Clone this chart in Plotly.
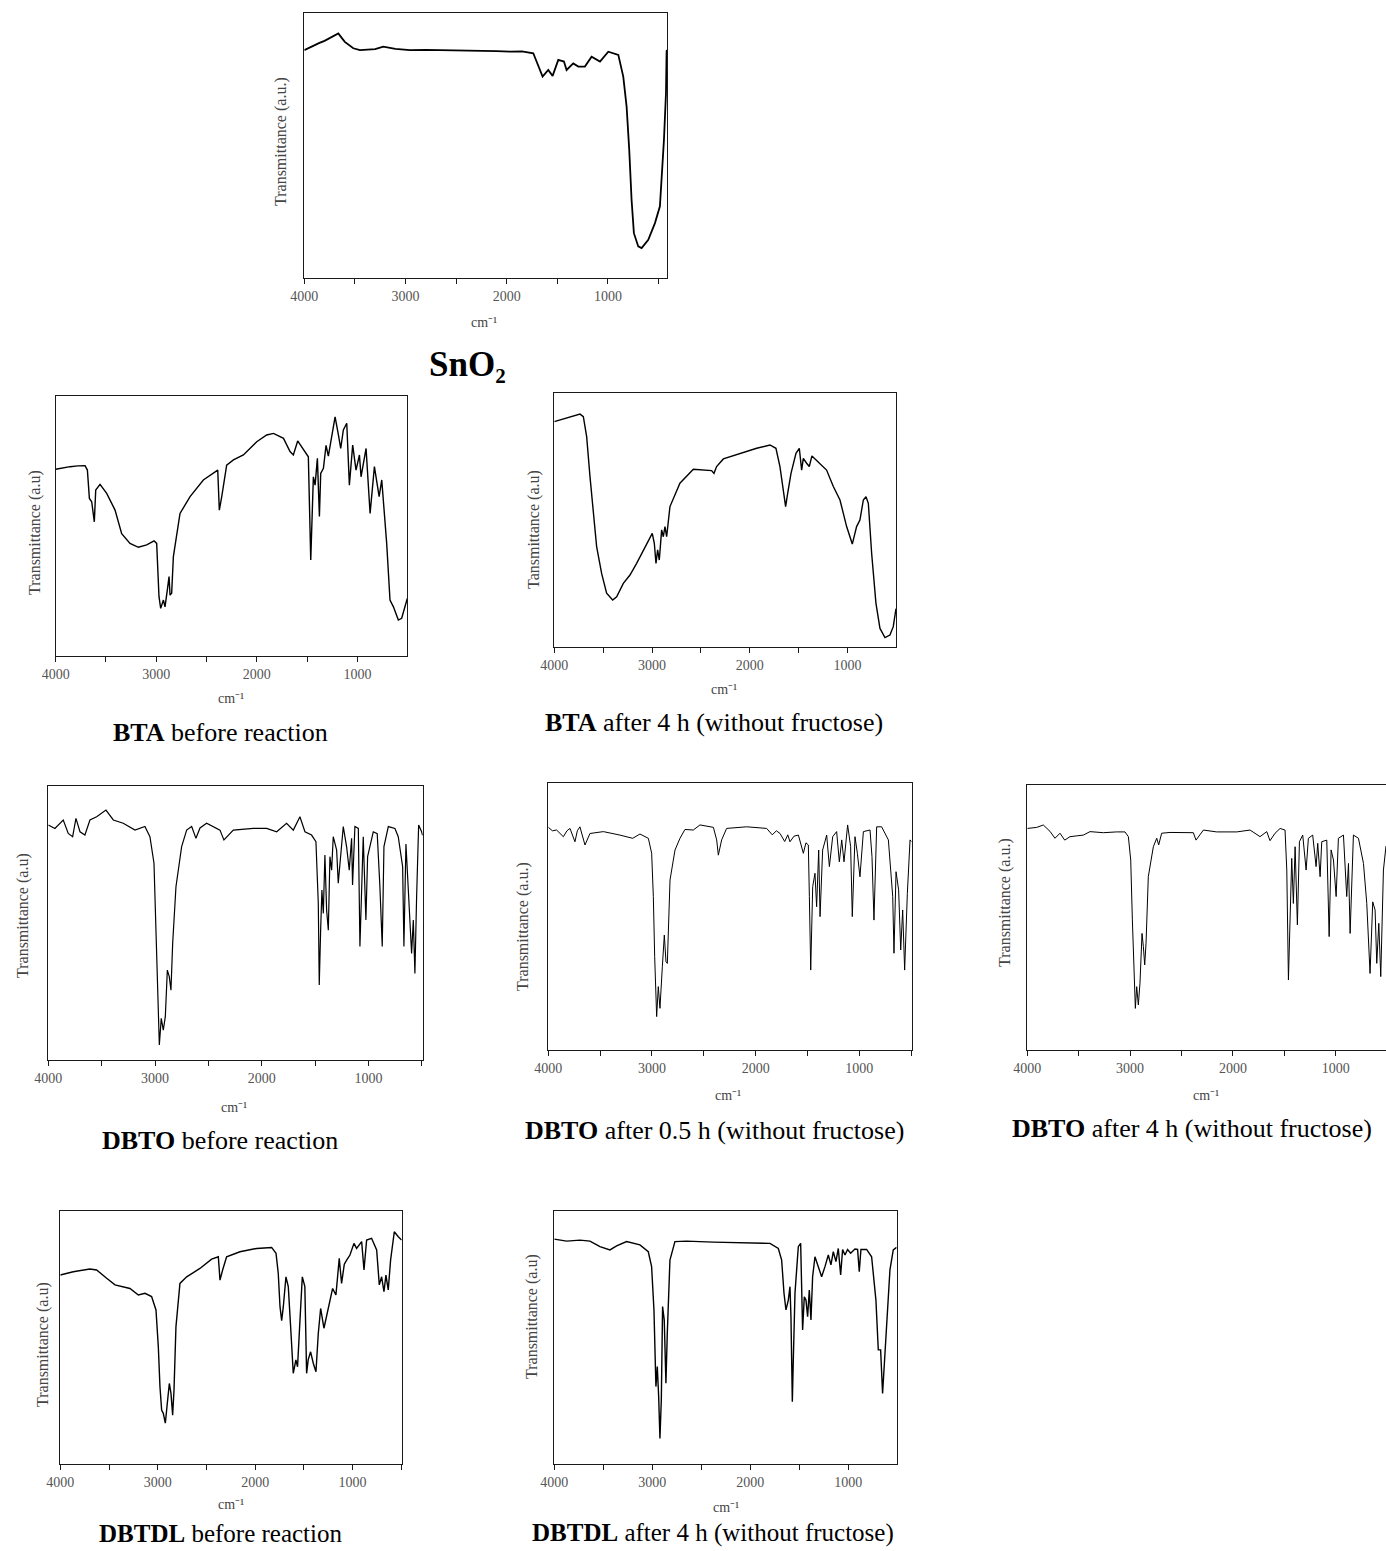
import plotly.graph_objects as go

W, H = 1386, 1551

# ---------------- data: (wavenumber cm-1, transmittance a.u.) ----------------
sno2 = [(4000, 85.9), (3950, 86.8), (3900, 88.0), (3850, 88.6), (3800, 89.4), (3750, 90.4),
        (3700, 91.4), (3664, 92.2), (3640, 91.0), (3600, 89.0), (3516, 86.6), (3450, 85.9),
        (3300, 86.3), (3220, 87.2), (3100, 86.4), (2956, 85.9), (2800, 86.0), (2600, 85.9),
        (2462, 85.9), (2300, 85.6), (2100, 85.5), (1968, 85.3), (1850, 85.4), (1738, 84.7),
        (1689, 80.3), (1646, 75.9), (1590, 78.4), (1547, 76.2), (1491, 82.2), (1435, 81.6),
        (1409, 78.4), (1343, 80.9), (1293, 79.7), (1228, 79.7), (1162, 83.4), (1079, 81.6),
        (997, 85.3), (898, 84.1), (849, 75.9), (816, 64.6), (790, 48.3), (767, 29.5),
        (744, 16.9), (701, 11.9), (668, 11.3), (602, 14.4), (536, 20.7), (487, 27.0),
        (447, 52.1), (427, 69.6), (421, 85.3), (418, 86.0)]

bta_before = [(4000, 71.7), (3930, 72.3), (3857, 72.7), (3780, 73.0), (3708, 73.1), (3685, 71.4),
              (3665, 60.5), (3642, 59.2), (3616, 51.5), (3602, 63.7), (3559, 65.9), (3493, 62.4),
              (3410, 56.0), (3344, 46.9), (3261, 43.2), (3178, 41.7), (3095, 42.6), (3022, 44.2),
              (2996, 43.2), (2973, 22.7), (2956, 18.2), (2929, 21.4), (2913, 18.8), (2890, 25.3),
              (2873, 30.4), (2863, 23.3), (2847, 24.0), (2830, 38.1), (2764, 54.7), (2664, 61.2),
              (2532, 67.6), (2389, 71.4), (2373, 56.0), (2349, 61.2), (2300, 73.3), (2233, 75.3),
              (2134, 77.2), (2001, 82.3), (1902, 84.9), (1834, 85.5), (1735, 83.6), (1670, 78.5),
              (1637, 77.2), (1594, 82.6), (1554, 80.4), (1521, 78.5), (1488, 76.5), (1464, 36.8),
              (1438, 68.8), (1421, 65.6), (1398, 75.9), (1378, 53.5), (1365, 70.1), (1338, 72.1),
              (1312, 80.9), (1289, 76.8), (1262, 83.6), (1222, 91.9), (1189, 84.9), (1166, 79.7),
              (1140, 86.8), (1106, 89.4), (1080, 65.6), (1047, 81.0), (1014, 71.4), (980, 77.2),
              (964, 68.8), (914, 79.7), (874, 54.7), (831, 72.7), (784, 61.2), (758, 67.6),
              (709, 43.2), (676, 21.4), (642, 18.8), (593, 13.7), (560, 14.4), (536, 17.6),
              (510, 21.4), (504, 22.0)]

bta_after = [(4000, 88.8), (3940, 89.5), (3874, 90.1), (3800, 91.0), (3737, 91.8), (3703, 90.8),
             (3669, 82.9), (3635, 67.1), (3601, 52.6), (3567, 39.5), (3516, 28.9), (3465, 21.1),
             (3403, 18.4), (3362, 19.7), (3294, 25.0), (3226, 28.3), (3158, 32.9), (3073, 39.5),
             (2998, 44.7), (2977, 40.8), (2960, 32.9), (2943, 38.2), (2926, 34.2), (2902, 46.1),
             (2885, 43.4), (2868, 47.4), (2851, 43.4), (2817, 55.3), (2715, 64.5), (2578, 70.0),
             (2442, 69.7), (2391, 69.5), (2367, 68.4), (2340, 71.1), (2271, 74.1), (2101, 76.3),
             (1930, 78.3), (1794, 79.6), (1733, 78.3), (1692, 71.1), (1658, 60.5), (1634, 55.3),
             (1613, 60.5), (1579, 68.4), (1528, 76.3), (1494, 78.3), (1470, 69.7), (1453, 74.3),
             (1419, 72.4), (1392, 71.1), (1365, 75.3), (1300, 73.0), (1215, 69.7), (1146, 63.2),
             (1078, 57.9), (1010, 47.4), (952, 40.5), (908, 47.4), (874, 50.0), (839, 57.9),
             (812, 59.2), (788, 56.6), (754, 36.8), (710, 17.1), (669, 7.2), (618, 3.6),
             (567, 4.6), (533, 7.9), (509, 13.8), (505, 15.0)]

dbto_before = [(4000, 85.8), (3938, 84.5), (3860, 87.6), (3813, 82.7), (3772, 81.5), (3741, 88.2),
               (3703, 83.3), (3657, 82.1), (3610, 87.6), (3547, 88.8), (3460, 91.2), (3391, 87.6),
               (3298, 86.4), (3188, 83.9), (3095, 85.2), (3048, 81.5), (3010, 71.8), (2992, 45.0),
               (2976, 25.5), (2960, 5.5), (2942, 15.2), (2923, 10.9), (2904, 15.8), (2885, 32.8),
               (2867, 30.4), (2851, 25.5), (2835, 42.6), (2804, 63.3), (2751, 77.9), (2704, 83.9),
               (2657, 85.2), (2617, 80.9), (2579, 84.7), (2517, 86.4), (2392, 83.9), (2355, 80.3),
               (2267, 83.9), (2080, 84.5), (1955, 84.5), (1861, 83.3), (1768, 86.4), (1705, 83.9),
               (1643, 88.8), (1596, 83.3), (1534, 82.1), (1493, 79.7), (1471, 57.2), (1462, 27.4),
               (1449, 47.4), (1437, 62.0), (1424, 53.5), (1409, 74.8), (1393, 54.7), (1377, 47.4),
               (1362, 74.2), (1346, 69.3), (1331, 81.5), (1299, 76.6), (1284, 64.5), (1237, 85.2),
               (1206, 77.9), (1181, 69.3), (1159, 80.9), (1150, 63.9), (1128, 85.2), (1096, 84.5),
               (1081, 41.4), (1050, 81.5), (1025, 51.1), (1009, 74.2), (956, 83.3), (919, 82.6),
               (894, 63.3), (872, 41.4), (856, 77.9), (815, 85.2), (753, 84.5), (722, 81.5),
               (681, 70.6), (669, 41.4), (650, 78.8), (619, 57.2), (597, 38.9), (581, 51.1),
               (566, 31.6), (550, 59.6), (531, 85.8), (503, 83.3), (494, 82.0)]

dbto_05h = [(4000, 83.3), (3960, 82.0), (3920, 82.3), (3880, 80.5), (3855, 79.8), (3820, 82.0),
            (3791, 82.9), (3743, 77.9), (3720, 82.0), (3695, 83.5), (3670, 80.0), (3646, 76.7),
            (3598, 81.0), (3469, 81.7), (3309, 80.4), (3186, 79.2), (3116, 80.8), (3035, 79.2),
            (3003, 73.6), (2987, 57.4), (2974, 34.9), (2955, 12.5), (2939, 23.7), (2923, 15.6),
            (2900, 31.2), (2881, 43.0), (2865, 33.0), (2852, 32.4), (2826, 63.6), (2778, 74.8),
            (2730, 79.2), (2682, 82.5), (2601, 82.3), (2537, 84.2), (2408, 83.3), (2376, 78.6),
            (2360, 72.9), (2328, 78.6), (2280, 82.9), (2087, 83.5), (1894, 82.9), (1840, 80.5),
            (1800, 82.0), (1765, 81.0), (1720, 78.0), (1690, 80.5), (1669, 77.9), (1630, 80.0),
            (1588, 80.4), (1560, 76.0), (1540, 73.6), (1515, 77.5), (1492, 76.7), (1482, 57.4),
            (1469, 29.9), (1450, 61.1), (1428, 66.1), (1412, 53.6), (1392, 74.8), (1379, 49.9),
            (1354, 74.8), (1315, 80.4), (1289, 68.6), (1257, 79.8), (1219, 81.7), (1193, 70.4),
            (1170, 78.6), (1148, 70.4), (1113, 84.2), (1084, 76.1), (1068, 49.9), (1042, 79.8),
            (1019, 73.6), (994, 64.8), (961, 81.7), (897, 82.3), (878, 72.3), (859, 48.6),
            (833, 83.5), (785, 83.5), (720, 78.6), (678, 57.4), (666, 36.2), (646, 66.7),
            (621, 59.9), (601, 37.4), (582, 52.4), (563, 29.9), (537, 58.6), (511, 78.6),
            (497, 77.9)]

dbto_4h = [(4000, 83.6), (3909, 84.0), (3844, 84.9), (3779, 82.5), (3731, 79.9), (3682, 81.8),
           (3636, 79.2), (3585, 80.5), (3520, 80.8), (3455, 81.1), (3390, 82.4), (3260, 82.0),
           (3131, 82.3), (3050, 82.3), (3017, 80.5), (2994, 71.7), (2978, 49.1), (2962, 27.0),
           (2949, 15.7), (2936, 23.9), (2920, 17.0), (2904, 25.2), (2884, 44.0), (2871, 39.0),
           (2858, 32.1), (2845, 40.3), (2823, 65.4), (2774, 76.7), (2741, 79.9), (2722, 77.4),
           (2693, 81.8), (2612, 82.1), (2482, 82.0), (2385, 82.0), (2359, 79.2), (2336, 80.5),
           (2287, 83.0), (2158, 82.3), (1963, 82.3), (1833, 83.0), (1736, 80.5), (1671, 82.4),
           (1639, 79.0), (1590, 81.8), (1541, 83.6), (1493, 83.0), (1476, 67.9), (1460, 26.4),
           (1444, 52.8), (1428, 72.3), (1412, 55.3), (1395, 76.7), (1373, 47.2), (1353, 78.6),
           (1321, 81.1), (1288, 67.9), (1266, 79.9), (1224, 81.1), (1191, 69.2), (1175, 78.0),
           (1152, 65.4), (1136, 78.6), (1087, 79.2), (1064, 42.8), (1045, 75.5), (1022, 71.7),
           (996, 57.9), (974, 79.9), (925, 81.1), (893, 57.9), (876, 70.4), (860, 44.0),
           (828, 81.1), (779, 79.9), (730, 70.4), (698, 55.3), (666, 28.9), (640, 55.9),
           (617, 52.8), (601, 32.7), (581, 47.8), (562, 27.7), (536, 67.9), (516, 76.1),
           (511, 77.0)]

dbtdl_before = [(4000, 74.6), (3867, 75.9), (3696, 77.0), (3627, 76.6), (3524, 73.3), (3439, 70.7),
                (3285, 69.3), (3199, 66.7), (3131, 67.4), (3063, 66.1), (3018, 60.8), (2994, 46.3),
                (2977, 30.5), (2960, 21.3), (2943, 20.0), (2922, 16.1), (2902, 23.9), (2881, 31.8),
                (2864, 27.9), (2847, 19.3), (2833, 29.2), (2813, 54.2), (2772, 71.3), (2703, 73.9),
                (2567, 77.2), (2447, 80.9), (2378, 81.8), (2361, 72.6), (2334, 76.6), (2293, 81.8),
                (2156, 83.8), (1985, 85.1), (1831, 85.5), (1786, 83.2), (1763, 75.3), (1745, 62.1),
                (1728, 56.6), (1711, 62.1), (1684, 73.9), (1660, 70.0), (1636, 54.2), (1609, 35.8),
                (1582, 41.1), (1565, 38.4), (1540, 56.8), (1516, 73.9), (1490, 70.0), (1472, 35.8),
                (1456, 41.1), (1431, 44.3), (1403, 39.7), (1376, 36.4), (1352, 51.6), (1328, 61.4),
                (1294, 53.6), (1250, 62.1), (1205, 69.3), (1171, 66.7), (1137, 81.2), (1113, 71.3),
                (1085, 78.9), (1061, 80.5), (1027, 82.5), (986, 87.1), (959, 85.1), (907, 87.8),
                (883, 76.6), (856, 88.4), (805, 89.1), (753, 84.5), (726, 70.7), (702, 73.9),
                (678, 68.0), (658, 74.6), (634, 68.7), (610, 80.5), (572, 91.7), (531, 89.7),
                (497, 88.4)]

dbtdl_after = [(4000, 88.9), (3874, 88.1), (3738, 88.5), (3636, 88.1), (3534, 85.9), (3432, 84.6),
               (3364, 86.2), (3262, 87.9), (3126, 86.6), (3041, 83.9), (3007, 78.0), (2983, 60.9),
               (2963, 30.6), (2949, 38.5), (2935, 26.6), (2922, 10.1), (2908, 25.3), (2895, 62.2),
               (2878, 56.9), (2861, 31.9), (2847, 51.6), (2820, 80.6), (2769, 87.9), (2650, 88.1),
               (2378, 87.7), (2037, 87.4), (1799, 87.2), (1714, 85.2), (1680, 80.6), (1656, 67.5),
               (1636, 60.9), (1612, 64.8), (1595, 70.1), (1585, 58.2), (1571, 24.6), (1561, 41.1),
               (1544, 67.5), (1510, 85.9), (1486, 87.2), (1466, 53.0), (1449, 66.1), (1432, 64.8),
               (1415, 58.2), (1398, 68.8), (1381, 56.9), (1364, 74.0), (1340, 81.9), (1306, 78.0),
               (1272, 74.0), (1238, 78.0), (1204, 82.6), (1177, 78.7), (1153, 83.9), (1126, 80.0),
               (1102, 85.2), (1078, 74.7), (1058, 84.8), (1034, 82.6), (1007, 84.8), (976, 83.3),
               (932, 85.0), (905, 84.8), (888, 76.0), (871, 84.8), (813, 84.8), (762, 81.9),
               (718, 64.8), (694, 45.1), (670, 45.1), (650, 27.9), (633, 38.5), (609, 56.9),
               (575, 76.7), (541, 84.6), (507, 85.6)]

captions = ["<b>SnO₂</b>",
            "<b>BTA</b> before reaction",
            "<b>BTA</b> after 4 h (without fructose)",
            "<b>DBTO</b> before reaction",
            "<b>DBTO</b> after 0.5 h (without fructose)",
            "<b>DBTO</b> after 4 h (without fructose)",
            "<b>DBTDL</b> before reaction",
            "<b>DBTDL</b> after 4 h (without fructose)"]

y_titles = ["Transmittance (a.u.)", "Transmittance (a.u)", "Tansmittance (a.u)",
            "Transmittance (a.u)", "Transmittance (a.u.)", "Transmittance (a.u.)",
            "Transmittance (a.u)", "Transmittance (a.u)"]

x_title = "cm⁻¹"
x_ticks = [4000, 3000, 2000, 1000]
x_tick_labels = ["4000", "3000", "2000", "1000"]
x_minor_ticks = [3500, 2500, 1500, 500]

spectra = [sno2, bta_before, bta_after, dbto_before, dbto_05h, dbto_4h, dbtdl_before, dbtdl_after]

# ---------------- layout (pixel geometry of each panel) ----------------
panels = [
    dict(box=(304.3, 12.7, 667.3, 278.0), xr=(4000, 414), ytx=281, yty=142, cmx=484, cmy=322,
         capx=467, capy=364, caps=35, lw=1.8, right=True),
    dict(box=(55.7, 395.7, 407.3, 655.7), xr=(4000, 504), ytx=35, yty=533, cmx=231, cmy=698,
         capx=220, capy=732, caps=26, lw=1.4, right=True),
    dict(box=(554.3, 393.3, 896.0, 646.7), xr=(4000, 505), ytx=534, yty=530, cmx=724, cmy=690,
         capx=714, capy=722, caps=26, lw=1.4, right=True),
    dict(box=(48.3, 786.0, 422.7, 1060.0), xr=(4000, 493), ytx=23, yty=916, cmx=234, cmy=1107,
         capx=220, capy=1140, caps=26, lw=1.2, right=True),
    dict(box=(548.3, 782.7, 911.7, 1050.0), xr=(4000, 495), ytx=523, yty=927, cmx=728, cmy=1095,
         capx=714, capy=1130, caps=26, lw=1.0, right=True),
    dict(box=(1027.3, 785.0, 1386.0, 1050.0), xr=(4000, 511), ytx=1005, yty=903, cmx=1206, cmy=1095,
         capx=1192, capy=1128, caps=26, lw=1.0, right=False),
    dict(box=(60.3, 1210.7, 401.7, 1464.0), xr=(4000, 496), ytx=43, yty=1345, cmx=231, cmy=1504,
         capx=220, capy=1533, caps=25, lw=1.4, right=True),
    dict(box=(554.3, 1211.0, 896.7, 1464.0), xr=(4000, 506), ytx=532, yty=1317, cmx=726, cmy=1507,
         capx=713, capy=1533, caps=25, lw=1.4, right=True),
]

SERIF = "Liberation Serif, Times New Roman, serif"

fig = go.Figure()
layout = dict(width=W, height=H, margin=dict(l=0, r=0, t=0, b=0, pad=0, autoexpand=False),
              paper_bgcolor="white", plot_bgcolor="white", showlegend=False)
annotations = []

for i, (spec, p) in enumerate(zip(spectra, panels), start=1):
    wn = [a for a, b in spec]
    tr = [b for a, b in spec]
    xa = "x" if i == 1 else f"x{i}"
    ya = "y" if i == 1 else f"y{i}"
    fig.add_trace(go.Scatter(x=wn, y=tr, mode="lines", xaxis=xa, yaxis=ya,
                             line=dict(color="black", width=p["lw"]), hoverinfo="skip"))
    l, t, r, b = p["box"]
    xkey = "xaxis" if i == 1 else f"xaxis{i}"
    ykey = "yaxis" if i == 1 else f"yaxis{i}"
    layout[xkey] = dict(domain=[l / W, min(r / W, 1.0)], range=list(p["xr"]), anchor=ya,
                        showgrid=False, zeroline=False, showline=True, linecolor="#1a1a1a",
                        linewidth=1.3, mirror=True, ticks="outside", ticklen=5, tickwidth=1.2,
                        tickcolor="#1a1a1a", tickvals=x_ticks, ticktext=x_tick_labels,
                        tickfont=dict(family=SERIF, size=14, color="#555555"),
                        minor=dict(tickvals=x_minor_ticks, ticks="outside",
                                   ticklen=5, tickwidth=1.2, tickcolor="#1a1a1a"),
                        fixedrange=True)
    layout[ykey] = dict(domain=[1 - b / H, 1 - t / H], range=[0, 100], anchor=xa,
                        showgrid=False, zeroline=False, showline=True, linecolor="#1a1a1a",
                        linewidth=1.3, mirror=p["right"], ticks="", showticklabels=False,
                        fixedrange=True)
    annotations.append(dict(text=y_titles[i - 1], xref="paper", yref="paper",
                            x=p["ytx"] / W, y=1 - p["yty"] / H, xanchor="center", yanchor="middle",
                            textangle=-90, showarrow=False,
                            font=dict(family=SERIF, size=16, color="#444444")))
    annotations.append(dict(text=x_title, xref="paper", yref="paper",
                            x=p["cmx"] / W, y=1 - p["cmy"] / H, xanchor="center", yanchor="middle",
                            showarrow=False, font=dict(family=SERIF, size=14, color="#444444")))
    annotations.append(dict(text=captions[i - 1], xref="paper", yref="paper",
                            x=p["capx"] / W, y=1 - p["capy"] / H, xanchor="center", yanchor="middle",
                            showarrow=False, font=dict(family=SERIF, size=p["caps"], color="black")))

layout["annotations"] = annotations
fig.update_layout(**layout)

fig.write_html("out.html", config={"displayModeBar": False, "responsive": False},
               post_script="document.body.style.margin='0px';")
